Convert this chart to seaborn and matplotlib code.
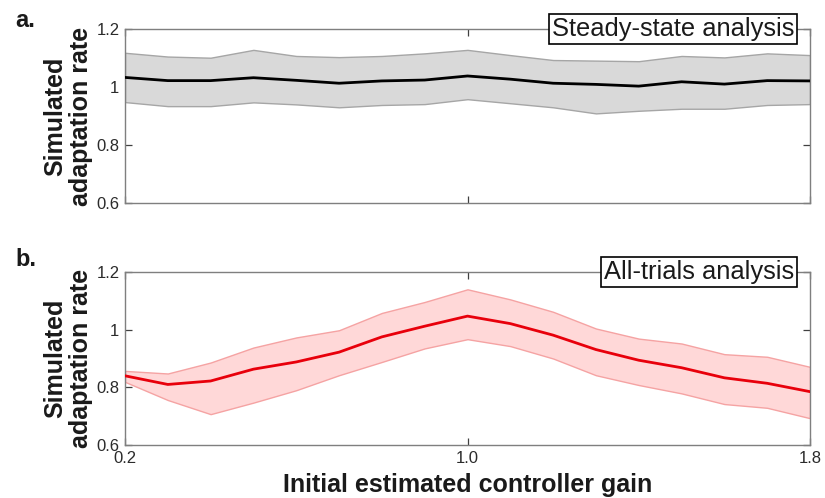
import numpy as np
import pandas as pd
import matplotlib
matplotlib.use("Agg")
import matplotlib.pyplot as plt
import seaborn as sns

gain = [0.2, 0.3, 0.4, 0.5, 0.6, 0.7, 0.8, 0.9, 1.0, 1.1, 1.2, 1.3, 1.4, 1.5, 1.6, 1.7, 1.8]

ss_mean = [1.033, 1.022, 1.022, 1.032, 1.023, 1.013, 1.021, 1.024, 1.038, 1.027, 1.013, 1.009, 1.003, 1.018, 1.010, 1.022, 1.021]
ss_upper = [1.118, 1.105, 1.101, 1.128, 1.107, 1.103, 1.107, 1.116, 1.128, 1.110, 1.093, 1.091, 1.089, 1.107, 1.102, 1.116, 1.110]
ss_lower = [0.948, 0.934, 0.934, 0.947, 0.940, 0.930, 0.938, 0.941, 0.958, 0.944, 0.930, 0.909, 0.918, 0.925, 0.925, 0.938, 0.941]

at_mean = [0.840, 0.810, 0.822, 0.863, 0.888, 0.922, 0.975, 1.012, 1.047, 1.021, 0.981, 0.931, 0.894, 0.868, 0.833, 0.814, 0.785]
at_upper = [0.857, 0.848, 0.886, 0.938, 0.973, 0.998, 1.058, 1.096, 1.140, 1.105, 1.062, 1.004, 0.969, 0.952, 0.915, 0.906, 0.871]
at_lower = [0.819, 0.756, 0.707, 0.747, 0.790, 0.842, 0.888, 0.935, 0.967, 0.943, 0.900, 0.842, 0.808, 0.779, 0.742, 0.729, 0.693]

x_ticks = [0.2, 1.0, 1.8]
x_ticklabels = ["0.2", "1.0", "1.8"]
y_ticks = [0.6, 0.8, 1.0, 1.2]
y_ticklabels = ["0.6", "0.8", "1", "1.2"]

sns.set_theme(style="white")
plt.rcParams['font.family'] = ['Liberation Sans', 'DejaVu Sans']

fig = plt.figure(figsize=(8.25, 4.98), dpi=100)
W, H = 825, 498
def axrect(l, t, r, b):
    return [l / W, 1 - b / H, (r - l) / W, (b - t) / H]

ax1 = fig.add_axes(axrect(125, 29, 810, 203))
ax2 = fig.add_axes(axrect(125, 272, 810, 445))

spine_col = "#7f7f7f"
tick_col = "#2b2b2b"

panels = [
    (ax1, ss_mean, ss_upper, ss_lower, "black", "#d9d9d9", "#a6a6a6", "Steady-state analysis"),
    (ax2, at_mean, at_upper, at_lower, "#e8000b", "#ffd8d8", "#f5a3a3", "All-trials analysis"),
]

for ax, m, up, lo, lc, fc, ec, title in panels:
    ax.fill_between(gain, lo, up, facecolor=fc, edgecolor=ec, linewidth=1.0, zorder=1)
    df = pd.DataFrame({"gain": gain, "rate": m})
    sns.lineplot(data=df, x="gain", y="rate", ax=ax, color=lc, linewidth=2.0, zorder=3)
    ax.set_xlim(0.2, 1.8)
    ax.set_ylim(0.6, 1.2)
    ax.set_xticks(x_ticks)
    ax.set_yticks(y_ticks)
    ax.set_yticklabels(y_ticklabels)
    for s in ax.spines.values():
        s.set_visible(True)
        s.set_color(spine_col)
        s.set_linewidth(1.0)
    ax.tick_params(direction="in", length=5, width=0.9, color="#404040",
                   top=True, right=True, bottom=True, left=True,
                   labelsize=12, labelcolor=tick_col, pad=4)
    ax.set_ylabel("Simulated\nadaptation rate", fontsize=18, fontweight="bold",
                  color="#1a1a1a", linespacing=1.1)
    ax.yaxis.set_label_coords(-0.047, 0.5)
    ax.set_xlabel("")
    ax.text(0.9766, 1.0, title, transform=ax.transAxes, ha="right", va="center",
            fontsize=18.4, color="#1a1a1a", zorder=10,
            bbox=dict(boxstyle="square,pad=0.1", facecolor="white", edgecolor="black", linewidth=1.2))
    ax.grid(False)

ax1.set_xticklabels([])
ax2.set_xticklabels(x_ticklabels)
ax2.set_xlabel("Initial estimated controller gain", fontsize=18, fontweight="bold",
               color="#1a1a1a", labelpad=5)

fig.text(15 / W, 1 - 27 / H, "a.", fontsize=17, fontweight="bold", color="#1a1a1a", ha="left", va="baseline")
fig.text(15 / W, 1 - 266 / H, "b.", fontsize=17, fontweight="bold", color="#1a1a1a", ha="left", va="baseline")

fig.savefig("out.png", dpi=100)
